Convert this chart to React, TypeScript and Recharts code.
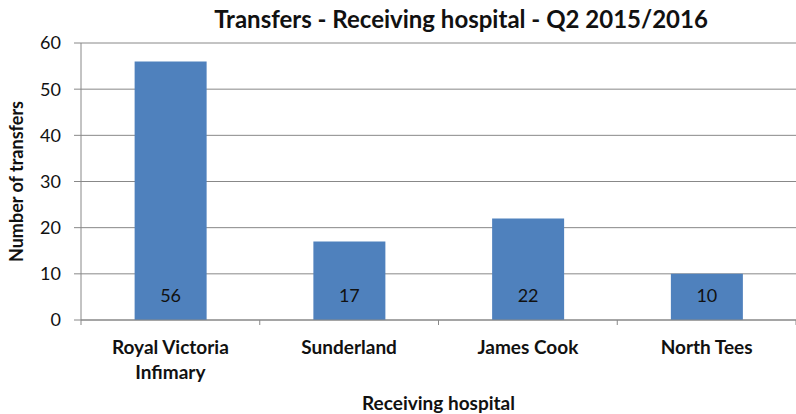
import { BarChart, Bar, XAxis, YAxis, CartesianGrid, LabelList } from 'recharts'

const hospitals = ['Royal Victoria Infimary', 'Sunderland', 'James Cook', 'North Tees']
const transfers = [56, 17, 22, 10]
const yTicks = [0, 10, 20, 30, 40, 50, 60]

const data = hospitals.map((name, i) => ({ name, value: transfers[i] }))

const FONT = 'Lato, "Open Sans", sans-serif'
const BLUE = '#4F81BD'
const GRID = '#888888'
const W = 796
const H = 414
const MARGIN = { top: 43, right: 0, bottom: 0, left: 0 }
const Y_W = 81
const X_H = 94
const BAND = (W - MARGIN.left - MARGIN.right - Y_W) / hospitals.length

// splits the first label into two lines like the original
function CategoryTick({ x, y, payload, index }: any) {
  const lns = payload.value === 'Royal Victoria Infimary' ? ['Royal Victoria', 'Infimary'] : [payload.value]
  return (
    <g>
      <line x1={x - BAND / 2} x2={x - BAND / 2} y1={y - 8} y2={y - 3} stroke={GRID} />
      {index === hospitals.length - 1 && (
        <line x1={x + BAND / 2} x2={x + BAND / 2} y1={y - 8} y2={y - 3} stroke={GRID} />
      )}
      <text x={x} y={y + 26} textAnchor="middle" fill="#111" fontSize={19} fontWeight={700} fontFamily={FONT}>
        {lns.map((l: string, i: number) => (
          <tspan key={i} x={x} dy={i === 0 ? 0 : 25}>{l}</tspan>
        ))}
      </text>
    </g>
  )
}

export default function App() {
  return (
    <div style={{ position: 'absolute', left: 0, top: 0, width: W, height: H, background: '#fff' }}>
      <BarChart width={W} height={H} data={data} margin={MARGIN} barCategoryGap="30%">
        <text x={461} y={28} textAnchor="middle" fontSize={24} fontWeight={700} fontFamily={FONT} fill="#111">
          Transfers - Receiving hospital - Q2 2015/2016
        </text>
        <CartesianGrid vertical={false} stroke={GRID} strokeWidth={1} />
        <XAxis
          dataKey="name"
          height={X_H}
          axisLine={{ stroke: GRID }}
          tickLine={false}
          interval={0}
          tick={<CategoryTick />}
          label={{ value: 'Receiving hospital', position: 'insideBottom', offset: 4, fill: '#111', fontSize: 19, fontWeight: 700, fontFamily: FONT }}
        />
        <YAxis
          width={Y_W}
          domain={[0, 60]}
          ticks={yTicks}
          interval={0}
          axisLine={{ stroke: GRID }}
          tickLine={{ stroke: GRID }}
          tickSize={7}
          tickMargin={13}
          tick={{ fill: '#111', fontSize: 18, fontFamily: FONT }}
          label={{ value: 'Number of transfers', angle: -90, position: 'insideLeft', offset: 17, style: { textAnchor: 'middle' }, fill: '#111', fontSize: 18, fontWeight: 700, fontFamily: FONT }}
        />
        <Bar dataKey="value" fill={BLUE} isAnimationActive={false}>
          <LabelList dataKey="value" position="insideBottom" offset={18} fill="#111" fontSize={18} fontFamily={FONT} />
        </Bar>
      </BarChart>
    </div>
  )
}
